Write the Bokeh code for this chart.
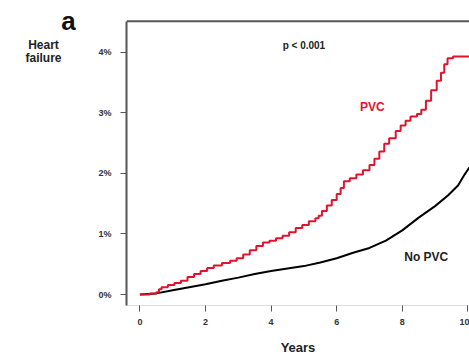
from bokeh.plotting import figure
from bokeh.layouts import row
from bokeh.models import Label, Span, FixedTicker, Range1d
from bokeh.embed import file_html
from bokeh.resources import INLINE

# Cumulative incidence of heart failure (%), by years of follow-up
pvc_years = [0.00, 0.30, 0.50, 0.58, 0.66, 0.85, 1.05, 1.25, 1.45, 1.65, 1.85, 2.05,
             2.25, 2.50, 2.75, 2.95, 3.15, 3.35, 3.55, 3.75, 3.95, 4.15, 4.35, 4.55,
             4.75, 4.95, 5.15, 5.35, 5.45, 5.55, 5.70, 5.85, 6.00, 6.12, 6.22, 6.40,
             6.60, 6.80, 7.00, 7.15, 7.30, 7.45, 7.60, 7.80, 7.95, 8.10, 8.25, 8.45,
             8.58, 8.72, 8.88, 9.05, 9.18, 9.28, 9.38, 9.55, 10.05]
pvc_pct = [0.00, 0.02, 0.04, 0.09, 0.12, 0.16, 0.19, 0.23, 0.29, 0.34, 0.39, 0.44,
           0.48, 0.52, 0.56, 0.60, 0.66, 0.73, 0.80, 0.86, 0.89, 0.93, 0.97, 1.03,
           1.10, 1.15, 1.21, 1.26, 1.30, 1.38, 1.47, 1.56, 1.66, 1.76, 1.87, 1.92,
           1.98, 2.05, 2.14, 2.24, 2.36, 2.49, 2.58, 2.70, 2.79, 2.87, 2.94, 2.98,
           3.05, 3.20, 3.37, 3.53, 3.66, 3.80, 3.90, 3.93, 3.93]

nopvc_years = [0.0, 0.5, 1.0, 1.5, 2.0, 2.5, 3.0, 3.5, 4.0, 4.5, 5.0, 5.5, 6.0,
               6.5, 7.0, 7.5, 8.0, 8.5, 9.0, 9.4, 9.7, 9.9, 10.05]
nopvc_pct = [0.00, 0.02, 0.07, 0.12, 0.17, 0.23, 0.28, 0.34, 0.39, 0.43, 0.47, 0.53,
             0.60, 0.69, 0.77, 0.89, 1.06, 1.27, 1.46, 1.64, 1.80, 1.98, 2.10]

x_ticks = [0, 2, 4, 6, 8, 10]
y_ticks = [0, 1, 2, 3, 4]
y_tick_labels = ["0%", "1%", "2%", "3%", "4%"]

FONT = "Liberation Sans"
AXIS_GREY = "#555555"
RED = "#e3122c"
HEIGHT = 357
SIDE_W = 91
BOTTOM = 50          # room below the plotting area for ticks and the axis title
Y_LOW, Y_BOX_TOP, Y_HIGH = -0.18, 4.51, 4.853   # box top sits a little below the frame top


def bold_label(fig, x, y, text, size, color="#222222", baseline="middle"):
    fig.add_layout(Label(x=x, y=y, text=text, text_font=FONT, text_font_size=size,
                         text_font_style="bold", text_color=color, text_align="center",
                         text_baseline=baseline))


# narrow side panel holding the panel letter and the outcome name
# (its y range runs in pixels, measured up from the bottom of the page)
side = figure(width=SIDE_W, height=HEIGHT, output_backend="svg", toolbar_location=None,
              title=None, x_range=Range1d(0, SIDE_W), y_range=Range1d(BOTTOM, HEIGHT),
              x_axis_type=None, y_axis_type=None,
              min_border=0, min_border_left=0, min_border_right=0,
              min_border_top=0, min_border_bottom=BOTTOM, outline_line_color=None)
side.grid.visible = False
bold_label(side, 68, HEIGHT - 21, "a", "26px", color="#111111", baseline="alphabetic")
bold_label(side, 43, HEIGHT - 45, "Heart", "12px")
bold_label(side, 43, HEIGHT - 58, "failure", "12px")

# main cumulative incidence plot
p = figure(width=469 - SIDE_W, height=HEIGHT, output_backend="svg", toolbar_location=None,
           title=None, x_range=Range1d(-0.41, 10.05), y_range=Range1d(Y_LOW, Y_HIGH),
           min_border_left=35, min_border_right=0, min_border_top=0,
           min_border_bottom=BOTTOM)
p.outline_line_color = None
p.xgrid.grid_line_color = None
p.ygrid.grid_line_color = None

# y axis: solid left box line (up to the box top) with outward ticks
p.yaxis.bounds = (Y_LOW, Y_BOX_TOP)
p.yaxis.ticker = FixedTicker(ticks=y_ticks)
p.yaxis.major_label_overrides = {t: lab for t, lab in zip(y_ticks, y_tick_labels)}
p.yaxis.axis_line_color = AXIS_GREY
p.yaxis.axis_line_width = 2
p.yaxis.major_tick_line_color = AXIS_GREY
p.yaxis.major_tick_out = 6
p.yaxis.major_tick_in = 0
p.yaxis.minor_tick_line_color = None
p.yaxis.major_label_standoff = 9
p.yaxis.major_label_text_font = FONT
p.yaxis.major_label_text_font_size = "9px"
p.yaxis.major_label_text_font_style = "bold"
p.yaxis.major_label_text_color = "#333333"

# x axis: faint baseline, outward ticks
p.xaxis.ticker = FixedTicker(ticks=x_ticks)
p.xaxis.axis_line_color = "#dcdcdc"
p.xaxis.axis_line_width = 1
p.xaxis.major_tick_line_color = AXIS_GREY
p.xaxis.major_tick_out = 6
p.xaxis.major_tick_in = 0
p.xaxis.minor_tick_line_color = None
p.xaxis.major_label_standoff = 7
p.xaxis.major_label_text_font = FONT
p.xaxis.major_label_text_font_size = "9px"
p.xaxis.major_label_text_font_style = "bold"
p.xaxis.major_label_text_color = "#333333"
p.xaxis.axis_label = "Years"
p.xaxis.axis_label_text_font = FONT
p.xaxis.axis_label_text_font_size = "13px"
p.xaxis.axis_label_text_font_style = "bold"
p.xaxis.axis_label_text_color = "#222222"
p.xaxis.axis_label_standoff = 12

# top box line
p.add_layout(Span(location=Y_BOX_TOP, dimension="width", line_color=AXIS_GREY, line_width=2))

# curves
p.line(nopvc_years, nopvc_pct, line_color="black", line_width=2)
p.step(pvc_years, pvc_pct, mode="after", line_color=RED, line_width=2)

bold_label(p, 5.0, 4.11, "p < 0.001", "10px")
bold_label(p, 7.09, 3.10, "PVC", "12px", color=RED)
bold_label(p, 8.73, 0.62, "No PVC", "12px")

layout = row(side, p, spacing=0)
open("out.html", "w").write(file_html(layout, INLINE))
